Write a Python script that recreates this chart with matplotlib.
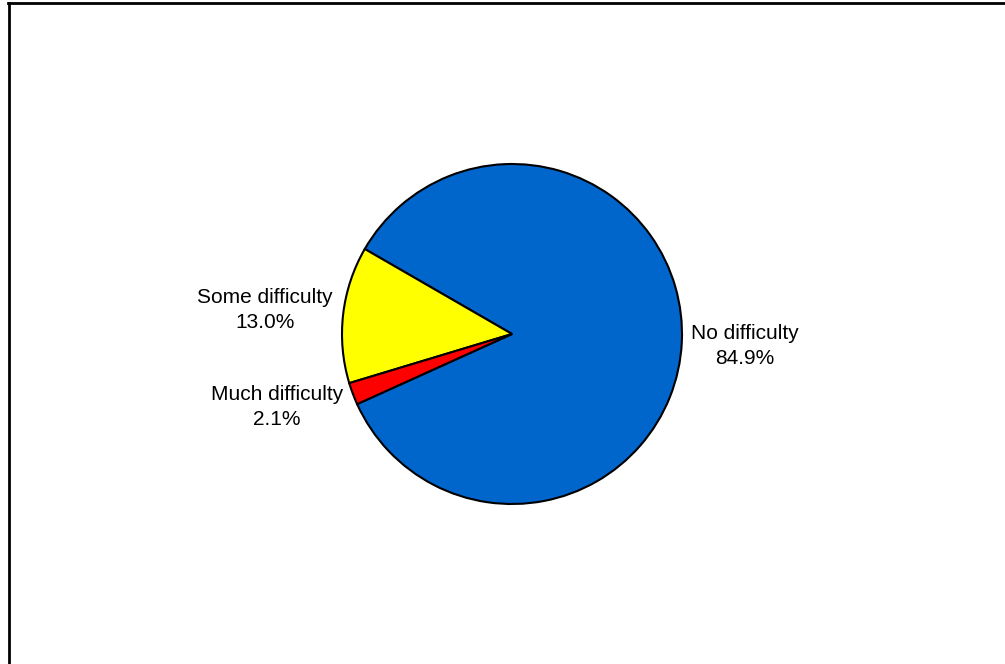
import matplotlib
matplotlib.use("Agg")
import matplotlib.pyplot as plt
from matplotlib.lines import Line2D

categories = ["No difficulty", "Some difficulty", "Much difficulty"]
shares = [84.9, 13.0, 2.1]
colors = ["#0066CC", "#FFFF00", "#FF0000"]

# layout, in image pixels (y from top)
W, H = 1005, 664
CENTER = (512, 334)
RADIUS = 170
LABEL_POS = [(745, 346), (265, 310), (277, 407)]

plt.rcParams["font.family"] = ["Liberation Sans", "DejaVu Sans"]

fig = plt.figure(figsize=(W / 100, H / 100), dpi=100)
ax = fig.add_axes([0, 0, 1, 1])

wedges, _ = ax.pie(
    shares,
    colors=colors,
    center=(CENTER[0], H - CENTER[1]),
    radius=RADIUS,
    startangle=150 + 360 * (shares[1] + shares[2]) / 100,
    counterclock=True,
    wedgeprops=dict(edgecolor="black", linewidth=1.5),
    frame=True,
)
ax.set_xlim(0, W)
ax.set_ylim(0, H)
ax.set_aspect("equal")
ax.axis("off")

for name, val, (lx, ly) in zip(categories, shares, LABEL_POS):
    ax.text(lx, H - ly, f"{name}\n{val:.1f}%", ha="center", va="center",
            fontsize=15, linespacing=1.45, color="black")

# chart frame (runs off the right and bottom edges)
fig.add_artist(Line2D([8.5 / W, 8.5 / W], [0, 1 - 3 / H], transform=fig.transFigure,
                      color="black", linewidth=2.0))
fig.add_artist(Line2D([7.5 / W, 1], [1 - 3 / H, 1 - 3 / H], transform=fig.transFigure,
                      color="black", linewidth=2.0))

fig.savefig("out.png", dpi=100)
